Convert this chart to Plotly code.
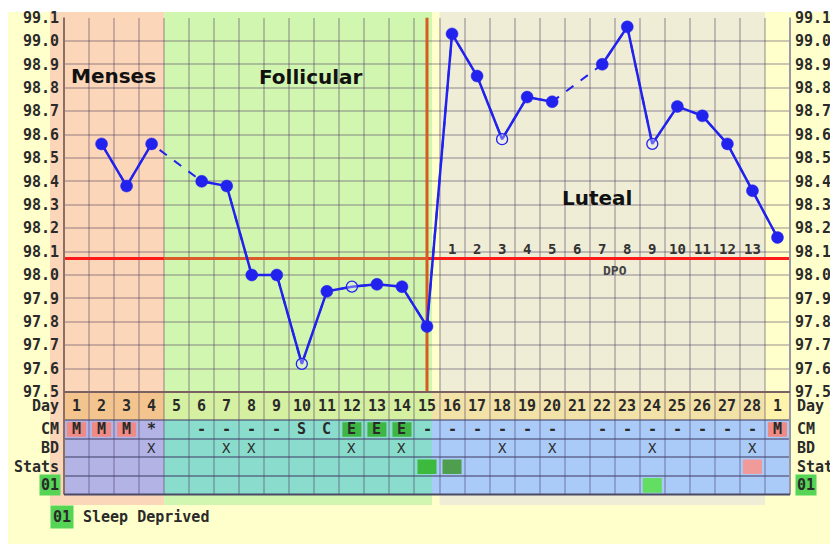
import plotly.graph_objects as go

# ---------------- data ----------------
days = list(range(1, 30))
day_labels = [str(d) for d in range(1, 29)] + ["1"]
temps = [None, 98.56, 98.38, 98.56, None, 98.40, 98.38, 98.00, 98.00, 97.62,
         97.93, 97.95, 97.96, 97.95, 97.78, 99.03, 98.85, 98.58, 98.76, 98.74,
         None, 98.90, 99.06, 98.56, 98.72, 98.68, 98.56, 98.36, 98.16]
open_days = [10, 12, 18, 24]
coverline = 98.07
ovulation_day = 15
cm_values = ["M", "M", "M", "*", "", "-", "-", "-", "-", "S", "C", "E", "E", "E", "-",
             "-", "-", "-", "-", "-", "", "-", "-", "-", "-", "-", "-", "-", "M"]
bd_days = [4, 7, 8, 12, 14, 18, 20, 24, 28]
stats_days = [15, 16, 28]
stats_colors = ["#3DBA3D", "#4E9E4E", "#F09A9A"]
sleep_days = [24]
dpo_days = list(range(16, 29))
dpo_labels = [str(i) for i in range(1, 14)]
phase_names = ["Menses", "Follicular", "Luteal"]
phase_label_x = [2.46, 10.37, 21.8]
phase_label_y = [98.85, 98.845, 98.33]
row_names = ["Day", "CM", "BD", "Stats", "01"]
y_ticks = [round(97.5 + 0.1 * i, 1) for i in range(17)]

# ---------------- geometry (screen pixels; page body adds an 8px offset) ----------------
W, H = 838, 544
OFF = 8
X0, X1 = 64, 790
Y_TOP, Y_MID, Y_BOT = 17.5, 392, 494.5
NCOL = 29


def px(x):
    return (x - OFF) / W


def py(y):
    return 1 - (y - OFF) / H


def day_px(d):
    return X0 + (d - 0.5) * (X1 - X0) / NCOL


MONO = "DejaVu Sans Mono"
TXT = "#2a2a2a"
BLUE = "#2222EE"

fig = go.Figure()

# dashed connector under the solid line (bridges missing days)
fig.add_trace(go.Scatter(x=days, y=temps, mode="lines", connectgaps=True,
                         line=dict(color=BLUE, width=2, dash="dash"),
                         hoverinfo="skip", showlegend=False, cliponaxis=False))
fig.add_trace(go.Scatter(x=days, y=temps, mode="lines", connectgaps=False,
                         line=dict(color=BLUE, width=2.5),
                         hoverinfo="skip", showlegend=False, cliponaxis=False))
m_fill = ["rgba(235,235,255,0.35)" if d in open_days else BLUE for d in days]
m_size = [11 if d in open_days else 12 for d in days]
m_lw = [1.3 if d in open_days else 0.5 for d in days]
fig.add_trace(go.Scatter(x=days, y=temps, mode="markers",
                         marker=dict(color=m_fill, size=m_size, opacity=1,
                                     line=dict(color=BLUE, width=m_lw)),
                         hoverinfo="skip", showlegend=False, cliponaxis=False))
# helpers to instantiate table subplot and right axis
fig.add_trace(go.Scatter(x=[1], y=[1], yaxis="y2", mode="markers",
                         marker=dict(opacity=0), hoverinfo="skip", showlegend=False))
fig.add_trace(go.Scatter(x=[1], y=[98], yaxis="y3", mode="markers",
                         marker=dict(opacity=0), hoverinfo="skip", showlegend=False))

shapes = []
# page background
shapes.append(dict(type="rect", xref="paper", yref="paper", x0=0, x1=1,
                   y0=0, y1=py(12), fillcolor="#FFFFCC", line_width=0, layer="below"))
# phase backgrounds
phase_bounds = [(50, day_px(4.5)), (day_px(4.5), day_px(15.2)), (day_px(15.5), day_px(28.5))]
phase_colors = ["#FCD6B8", "#D1F6B0", "#EFEDD6"]
for (a, b), c in zip(phase_bounds, phase_colors):
    shapes.append(dict(type="rect", xref="paper", yref="paper", x0=px(a), x1=px(b),
                       y0=py(505), y1=py(12), fillcolor=c, line_width=0, layer="below"))

# table backgrounds (y2 in row units: Day 0-1.5, then 1 each)
day_row_cols = [(0.5, 4.5, "#F3C48E"), (4.5, 15.2, "#D6F0A2"), (15.2, 28.5, "#F2E2A8"),
                (28.5, 29.5, "#FFF2AA")]
sub_row_cols = [(0.5, 4.5, "#B3B3E6"), (4.5, 15.2, "#8ADCCC"), (15.2, 29.5, "#AACAF8")]
for a, b, c in day_row_cols:
    shapes.append(dict(type="rect", xref="x", yref="y2", x0=a, x1=b, y0=0, y1=1.5,
                       fillcolor=c, line_width=0, layer="below"))
for a, b, c in sub_row_cols:
    shapes.append(dict(type="rect", xref="x", yref="y2", x0=a, x1=b, y0=1.5, y1=5.5,
                       fillcolor=c, line_width=0, layer="below"))

# CM coloured cells
for d, v in zip(days, cm_values):
    if v in ("M", "E"):
        shapes.append(dict(type="rect", xref="x", yref="y2", x0=d - 0.38, x1=d + 0.38,
                           y0=1.62, y1=2.4, fillcolor="#F08A84" if v == "M" else "#3FB544",
                           line_width=0, layer="below"))
for d, c in zip(stats_days, stats_colors):
    shapes.append(dict(type="rect", xref="x", yref="y2", x0=d - 0.38, x1=d + 0.38,
                       y0=3.62, y1=4.4, fillcolor=c, line_width=0, layer="below"))
for d in sleep_days:
    shapes.append(dict(type="rect", xref="x", yref="y2", x0=d - 0.38, x1=d + 0.38,
                       y0=4.62, y1=5.4, fillcolor="#62DE62", line_width=0, layer="below"))

# borders
shapes.append(dict(type="line", xref="paper", yref="paper", x0=px(X0), x1=px(X0),
                   y0=py(Y_BOT), y1=py(Y_TOP), line=dict(color="#8C6E62", width=2)))
shapes.append(dict(type="line", xref="paper", yref="paper", x0=px(X1), x1=px(X1),
                   y0=py(Y_BOT), y1=py(Y_TOP), line=dict(color="#9A98A6", width=2)))
for yy, col in [(Y_MID, "#7A6060"), (Y_BOT, "#4A4A66")]:
    shapes.append(dict(type="line", xref="paper", yref="paper", x0=px(X0), x1=px(X1),
                       y0=py(yy), y1=py(yy), line=dict(color=col, width=2)))

# coverline and ovulation line
cover_segments = [(0.5, 4.5, "#FF1A1A"), (4.5, ovulation_day, "#DA5A2A"),
                  (ovulation_day, 29.5, "#FF1A1A")]
for a, b, c in cover_segments:
    shapes.append(dict(type="line", xref="x", yref="y", x0=a, x1=b, y0=coverline,
                       y1=coverline, line=dict(color=c, width=3), layer="between"))
shapes.append(dict(type="line", xref="x", yref="y", x0=ovulation_day, x1=ovulation_day,
                   y0=97.5, y1=99.1, line=dict(color="#D65A22", width=3), layer="between"))

annotations = []
# phase labels
for name, lx, ly in zip(phase_names, phase_label_x, phase_label_y):
    annotations.append(dict(x=lx, y=ly, xref="x", yref="y", text=name, showarrow=False,
                            font=dict(family="DejaVu Sans", size=20, color="#111",
                                      weight="bold")))
# DPO
for d, t in zip(dpo_days, dpo_labels):
    annotations.append(dict(x=d, y=98.11, xref="x", yref="y", text=t, showarrow=False,
                            font=dict(family=MONO, size=14, color="#333", weight="bold")))
annotations.append(dict(x=22.5, y=98.02, xref="x", yref="y", text="DPO", showarrow=False,
                        font=dict(family=MONO, size=13, color="#444", weight="bold")))

row_centers = [0.75, 2, 3, 4, 5]
tfont = dict(family=MONO, size=15, color=TXT, weight="bold")
for d, lab in zip(days, day_labels):
    annotations.append(dict(x=d, y=row_centers[0], xref="x", yref="y2", text=lab,
                            showarrow=False, font=tfont))
for d, v in zip(days, cm_values):
    if v:
        annotations.append(dict(x=d, y=row_centers[1], xref="x", yref="y2", text=v,
                                showarrow=False, font=tfont))
for d in bd_days:
    annotations.append(dict(x=d, y=row_centers[2], xref="x", yref="y2", text="X",
                            showarrow=False, font=dict(family=MONO, size=14, color=TXT)))
# row labels both sides
for name, rc in zip(row_names, row_centers):
    bg = "#55D455" if name == "01" else None
    annotations.append(dict(x=px(61), y=rc, xref="paper", yref="y2", text=name,
                            xanchor="right", yanchor="middle", showarrow=False,
                            font=tfont, bgcolor=bg, borderpad=1))
    annotations.append(dict(x=px(795), y=rc, xref="paper", yref="y2", text=name,
                            xanchor="left", yanchor="middle", showarrow=False,
                            font=tfont, bgcolor=bg, borderpad=1))
# legend
annotations.append(dict(x=px(50), y=py(517), xref="paper", yref="paper", text="01",
                        xanchor="left", yanchor="middle", showarrow=False, font=tfont,
                        bgcolor="#55D455", borderpad=2))
annotations.append(dict(x=px(81), y=py(517), xref="paper", yref="paper",
                        text="Sleep Deprived", xanchor="left", yanchor="middle",
                        showarrow=False, font=tfont))

GRID = "rgba(70,50,90,0.28)"
tick_font = dict(family=MONO, size=15, color="#2a2a2a", weight="bold")
fig.update_layout(
    width=W, height=H, margin=dict(l=0, r=0, t=0, b=0, autoexpand=False),
    paper_bgcolor="white", plot_bgcolor="rgba(0,0,0,0)",
    showlegend=False, hovermode=False,
    xaxis=dict(domain=[px(X0), px(X1)], range=[0.5, 29.5], anchor="y", automargin=False,
               tickmode="linear", tick0=0.5, dtick=1, showticklabels=False,
               showgrid=True, gridcolor=GRID, gridwidth=1.5, zeroline=False,
               ticks=""),
    yaxis=dict(domain=[py(Y_MID), py(Y_TOP)], range=[97.5, 99.1], automargin=False,
               tickmode="array", tickvals=y_ticks, tickformat=".1f",
               showgrid=True, gridcolor=GRID, gridwidth=1.5, zeroline=False,
               ticks="", ticklabelstandoff=4, tickfont=tick_font),
    yaxis2=dict(domain=[py(Y_BOT), py(Y_MID)], range=[5.5, 0], anchor="x", automargin=False,
                tickmode="array", tickvals=[1.5, 2.5, 3.5, 4.5], showticklabels=False,
                showgrid=True, gridcolor="rgba(70,70,110,0.55)", gridwidth=1.5,
                zeroline=False, ticks=""),
    yaxis3=dict(overlaying="y", side="right", range=[97.5, 99.1], anchor="x",
                automargin=False,
                tickmode="array", tickvals=y_ticks, tickformat=".1f", showgrid=False,
                zeroline=False, ticks="", ticklabelstandoff=4, tickfont=tick_font),
    shapes=shapes, annotations=annotations,
)

fig.write_html("out.html")
